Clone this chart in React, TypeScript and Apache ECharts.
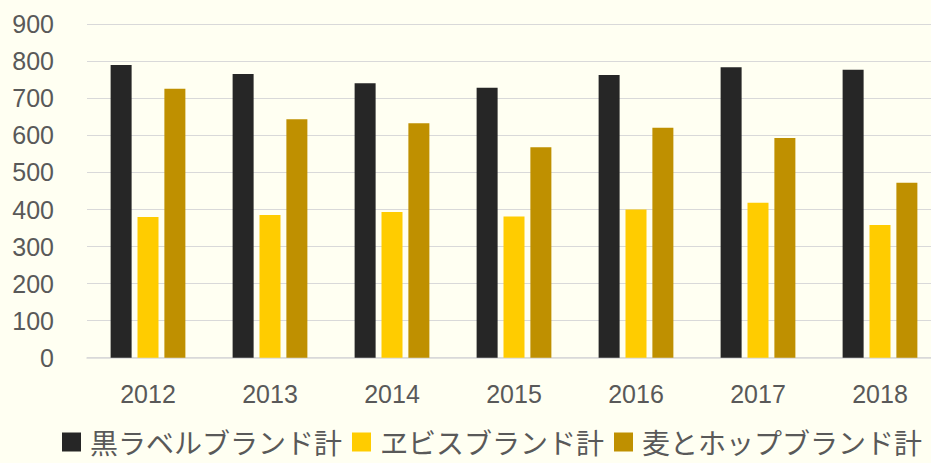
import React, { useEffect, useRef } from "react";
import * as echarts from "echarts";

const years = ["2012", "2013", "2014", "2015", "2016", "2017", "2018"];
const seriesNames = ["黒ラベルブランド計", "ヱビスブランド計", "麦とホップブランド計"];
const kuroLabel = [790, 766, 741, 729, 763, 784, 777];
const yebisu = [380, 385, 393, 381, 400, 418, 358];
const mugiHop = [726, 644, 633, 568, 621, 593, 472];
const colors = ["#262626", "#ffcc00", "#bf9000"];

export default function App() {
  const ref = useRef<HTMLDivElement>(null);
  useEffect(() => {
    document.body.style.margin = "0";
    document.body.style.overflow = "hidden";
    const chart = echarts.init(ref.current!, null, { renderer: "svg" });
    const dataSets = [kuroLabel, yebisu, mugiHop];
    chart.setOption({
      animation: false,
      backgroundColor: "#fffff2",
      grid: { left: 87, right: 0, top: 24.3, bottom: 105.3, containLabel: false },
      legend: {
        left: 57,
        top: 423,
        itemWidth: 19,
        itemHeight: 19,
        itemGap: 10,
        icon: "rect",
        textStyle: {
          fontFamily: "Noto Sans CJK JP",
          fontSize: 28,
          lineHeight: 28,
          color: "#595959",
          padding: [0, 0, 0, 4],
        },
        data: seriesNames,
      },
      xAxis: {
        type: "category",
        data: years,
        axisLine: { lineStyle: { color: "#d9d9d9", width: 1.5 } },
        axisTick: { show: false },
        axisLabel: {
          fontFamily: "Liberation Sans",
          fontSize: 25,
          color: "#595959",
          margin: 24,
        },
      },
      yAxis: {
        type: "value",
        min: 0,
        max: 900,
        interval: 100,
        axisLine: { show: false },
        axisTick: { show: false },
        splitLine: { lineStyle: { color: "#d9d9d9", width: 1.2 } },
        axisLabel: {
          fontFamily: "Liberation Sans",
          fontSize: 25,
          color: "#595959",
          margin: 33,
        },
      },
      series: seriesNames.map((name, i) => ({
        name,
        type: "bar",
        data: dataSets[i],
        barWidth: 21,
        barGap: "28%",
        itemStyle: { color: colors[i] },
      })),
    });
    return () => chart.dispose();
  }, []);
  return <div ref={ref} style={{ width: 941, height: 463 }} />;
}
